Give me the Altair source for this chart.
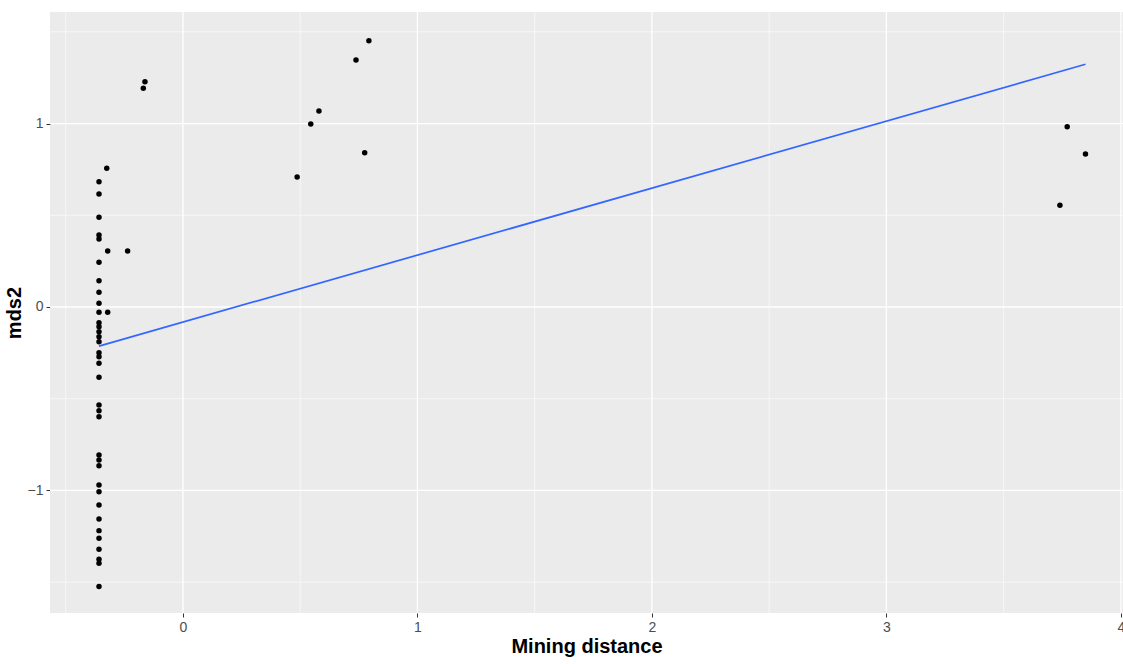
import altair as alt
import pandas as pd

# ---- data ----
col_x = -0.358
col_y = [0.683, 0.616, 0.489, 0.392, 0.371, 0.244, 0.143, 0.080, 0.020, -0.029,
         -0.086, -0.107, -0.135, -0.162, -0.189, -0.249, -0.271, -0.307, -0.383,
         -0.534, -0.565, -0.598, -0.807, -0.834, -0.865, -0.970, -1.007, -1.079,
         -1.155, -1.219, -1.260, -1.320, -1.375, -1.397, -1.524]
other_x = [-0.325, -0.321, -0.236, -0.321, -0.162, -0.169, 0.487, 0.545, 0.580,
           0.775, 0.738, 0.793, 3.771, 3.849, 3.740]
other_y = [0.756, 0.305, 0.305, -0.029, 1.228, 1.192, 0.708, 0.997, 1.068,
           0.841, 1.346, 1.451, 0.983, 0.834, 0.554]
fit_x = [-0.358, 3.849]
fit_y = [-0.213, 1.323]
x_major = [0, 1, 2, 3, 4]
x_minor = [-0.5, 0.5, 1.5, 2.5, 3.5]
y_major = [-1, 0, 1]
y_minor = [-1.5, -0.5, 0.5, 1.5]

pts = pd.DataFrame({
    "x": [col_x] * len(col_y) + other_x,
    "y": col_y + other_y,
})
fit = pd.DataFrame({"x": fit_x, "y": fit_y})

xs = alt.Scale(domain=[-0.567, 4.009], nice=False, zero=False)
ys = alt.Scale(domain=[-1.668, 1.608], nice=False, zero=False)

FONT = "Liberation Sans"

xaxis = alt.Axis(values=x_major, grid=False, domain=False, tickColor="#333333",
                 tickSize=4, labelFontSize=14, labelColor="#4D4D4D",
                 labelPadding=3, labelFont=FONT, titleFont=FONT,
                 titleFontSize=20, titleFontWeight="bold", titleColor="black",
                 titlePadding=2, format="d")
yaxis = alt.Axis(values=y_major, grid=False, domain=False, tickColor="#333333",
                 tickSize=4, labelFontSize=14, labelColor="#4D4D4D",
                 labelPadding=3, labelFont=FONT, titleFont=FONT,
                 titleFontSize=20, titleFontWeight="bold", titleColor="black",
                 titlePadding=3, format="d")
XT = "Mining distance"
YT = "mds2"

vminor = alt.Chart(pd.DataFrame({"x": x_minor})).mark_rule(
    color="white", strokeWidth=0.6).encode(x=alt.X("x:Q", scale=xs, axis=xaxis, title=XT))
vmajor = alt.Chart(pd.DataFrame({"x": x_major})).mark_rule(
    color="white", strokeWidth=1.3).encode(x=alt.X("x:Q", scale=xs, axis=xaxis, title=XT))
hminor = alt.Chart(pd.DataFrame({"y": y_minor})).mark_rule(
    color="white", strokeWidth=0.6).encode(y=alt.Y("y:Q", scale=ys, axis=yaxis, title=YT))
hmajor = alt.Chart(pd.DataFrame({"y": y_major})).mark_rule(
    color="white", strokeWidth=1.3).encode(y=alt.Y("y:Q", scale=ys, axis=yaxis, title=YT))

points = alt.Chart(pts).mark_circle(color="black", opacity=1, size=30, clip=True).encode(
    x=alt.X("x:Q", scale=xs, axis=xaxis, title=XT),
    y=alt.Y("y:Q", scale=ys, axis=yaxis, title=YT),
)

line = alt.Chart(fit).mark_line(color="#3366FF", strokeWidth=1.7, clip=True).encode(
    x=alt.X("x:Q", scale=xs, axis=xaxis, title=XT),
    y=alt.Y("y:Q", scale=ys, axis=yaxis, title=YT),
)

chart = alt.layer(vminor, hminor, vmajor, hmajor, points, line).properties(
    width=1073, height=601,
    autosize=alt.AutoSizeParams(type="none"),
    padding={"left": 50, "top": 12, "right": 0, "bottom": 51},
    background="white",
).configure_view(fill="#EBEBEB", stroke=None)

chart.save("out.html", embed_options={"renderer": "svg", "actions": False})
